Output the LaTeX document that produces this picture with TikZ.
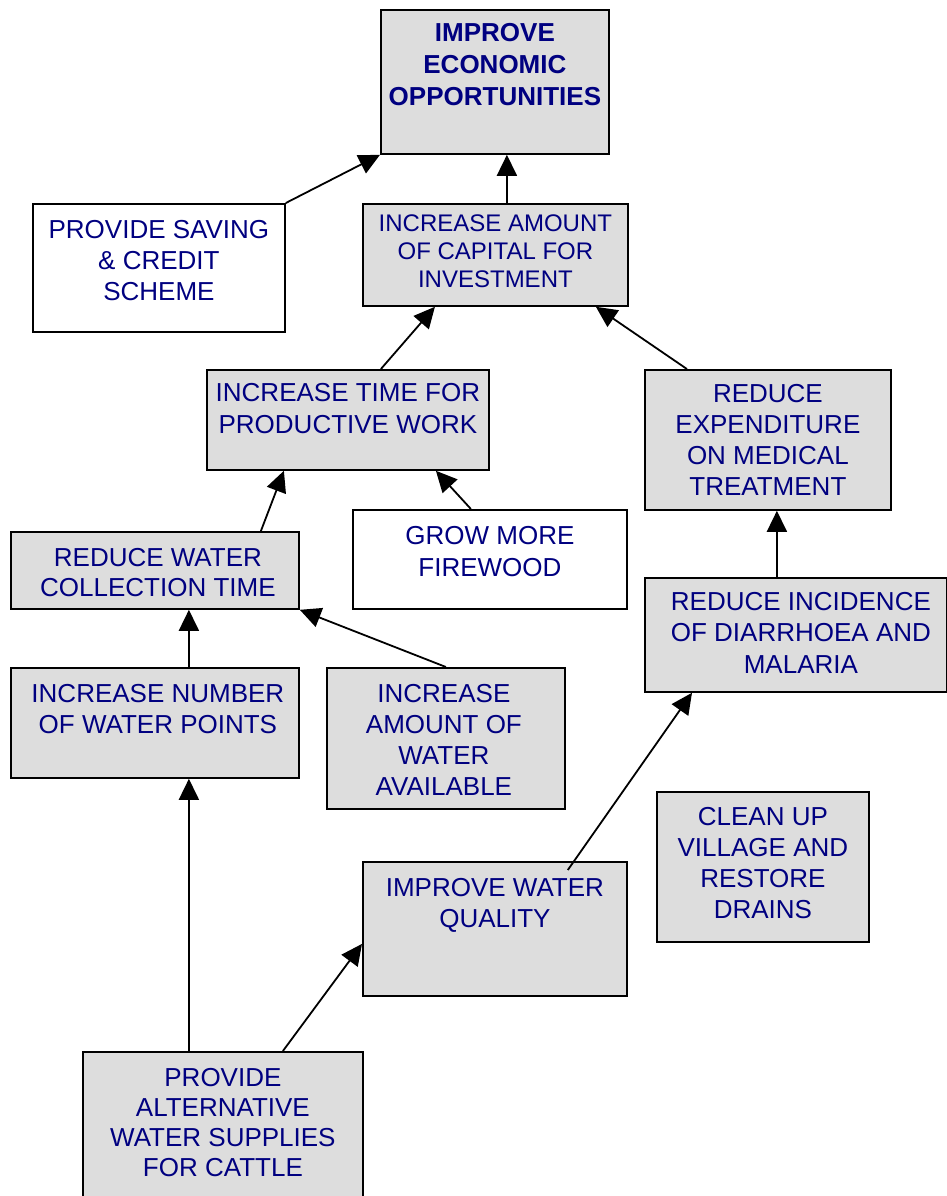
\documentclass[tikz,border=0pt]{standalone}
\usepackage{fontspec}
\setmainfont{Liberation Sans}
\usetikzlibrary{arrows.meta}
\definecolor{navy}{RGB}{0,0,128}
\definecolor{boxgray}{RGB}{221,221,221}
\tikzset{
  box/.style={draw=black, line width=1.8pt, fill=boxgray, rectangle, inner sep=0pt, anchor=north west},
  wbox/.style={box, fill=white},
  txt/.style={text=navy, align=center, inner sep=0pt, anchor=north, font=\fontsize{26}{31}\selectfont},
  link/.style={draw=black, line width=1.8pt, -{Triangle[length=21pt,width=20pt]}}
}
\newcommand{\mkbox}[6]{%
  \node[#6, minimum width=#4-#2, minimum height=#5-#3] (#1) at (#2,#3) {};%
}
\begin{document}
\begin{tikzpicture}[x=1pt,y=-1pt]
\useasboundingbox (0,0) rectangle (947,1196);
\fill[white] (0,0) rectangle (947,1196);
% boxes
\mkbox{econ}{380}{9}{608}{153}{box}
\mkbox{saving}{32}{203}{284}{331}{wbox}
\mkbox{cap}{362}{203}{627}{305}{box}
\mkbox{time}{206}{369}{488}{469}{box}
\mkbox{med}{644}{369}{890}{509}{box}
\mkbox{fire}{352}{509}{626}{608}{wbox}
\mkbox{coll}{10}{531}{298}{608}{box}
\mkbox{diar}{644}{577}{946}{691}{box}
\mkbox{pts}{10}{667}{298}{777}{box}
\mkbox{avail}{326}{667}{564}{808}{box}
\mkbox{clean}{656}{791}{868}{941}{box}
\mkbox{qual}{362}{861}{626}{995}{box}
\mkbox{cattle}{82}{1051}{362}{1199}{box}
% texts
\node[txt, font=\bfseries\fontsize{26}{32}\selectfont] (econ-t) at ([yshift=-14pt]econ.north) {IMPROVE\\ECONOMIC\\OPPORTUNITIES};
\node[txt] (saving-t) at ([yshift=-17pt]saving.north) {PROVIDE SAVING\\\& CREDIT\\SCHEME};
\node[txt, font=\fontsize{24}{28}\selectfont] (cap-t) at ([yshift=-12pt]cap.north) {INCREASE AMOUNT\\OF CAPITAL FOR\\INVESTMENT};
\node[txt, font=\fontsize{26}{32}\selectfont] (time-t) at ([yshift=-14pt]time.north) {INCREASE TIME FOR\\PRODUCTIVE WORK};
\node[txt] (med-t) at ([yshift=-15pt]med.north) {REDUCE\\EXPENDITURE\\ON MEDICAL\\TREATMENT};
\node[txt, font=\fontsize{26}{32}\selectfont] (fire-t) at ([yshift=-17pt]fire.north) {GROW MORE\\FIREWOOD};
\node[txt, font=\fontsize{26}{30}\selectfont] (coll-t) at ([xshift=3pt,yshift=-17pt]coll.north) {REDUCE WATER\\COLLECTION TIME};
\node[txt, font=\fontsize{26}{31.5}\selectfont] (diar-t) at ([xshift=5pt,yshift=-15pt]diar.north) {REDUCE INCIDENCE\\OF DIARRHOEA AND\\MALARIA};
\node[txt] (pts-t) at ([xshift=3pt,yshift=-17pt]pts.north) {INCREASE NUMBER\\OF WATER POINTS};
\node[txt] (avail-t) at ([xshift=-2pt,yshift=-17pt]avail.north) {INCREASE\\AMOUNT OF\\WATER\\AVAILABLE};
\node[txt] (clean-t) at ([yshift=-16pt]clean.north) {CLEAN UP\\VILLAGE AND\\RESTORE\\DRAINS};
\node[txt] (qual-t) at ([yshift=-17pt]qual.north) {IMPROVE WATER\\QUALITY};
\node[txt, font=\fontsize{26}{30}\selectfont] (cattle-t) at ([yshift=-17pt]cattle.north) {PROVIDE\\ALTERNATIVE\\WATER SUPPLIES\\FOR CATTLE};
% connectors
\draw[link] (saving.north east) -- (econ.south west);
\draw[link] ([xshift=11.5pt]cap.north) -- ([xshift=12pt]econ.south);
\draw[link] ([xshift=33pt]time.north) -- ([xshift=-60.5pt]cap.south);
\draw[link] ([xshift=-81pt]med.north) -- ([xshift=100.5pt]cap.south);
\draw[link] ([xshift=-19pt]fire.north) -- ([xshift=88pt]time.south);
\draw[link] ([xshift=106pt]coll.north) -- ([xshift=-64pt]time.south);
\draw[link] ([xshift=-19pt]diar.north) -- ([xshift=9pt]med.south);
\draw[link] ([xshift=34pt]pts.north) -- ([xshift=34pt]coll.south);
\draw[link] (avail.north) -- (coll.south east);
\draw[link] ([xshift=-60pt,yshift=-9pt]qual.north east) -- ([xshift=48pt]diar.south west);
\draw[link] ([xshift=-34pt]cattle.north) -- ([xshift=34pt]pts.south);
\draw[link] ([xshift=60pt]cattle.north) -- ([yshift=-15pt]qual.west);
\end{tikzpicture}
\end{document}
